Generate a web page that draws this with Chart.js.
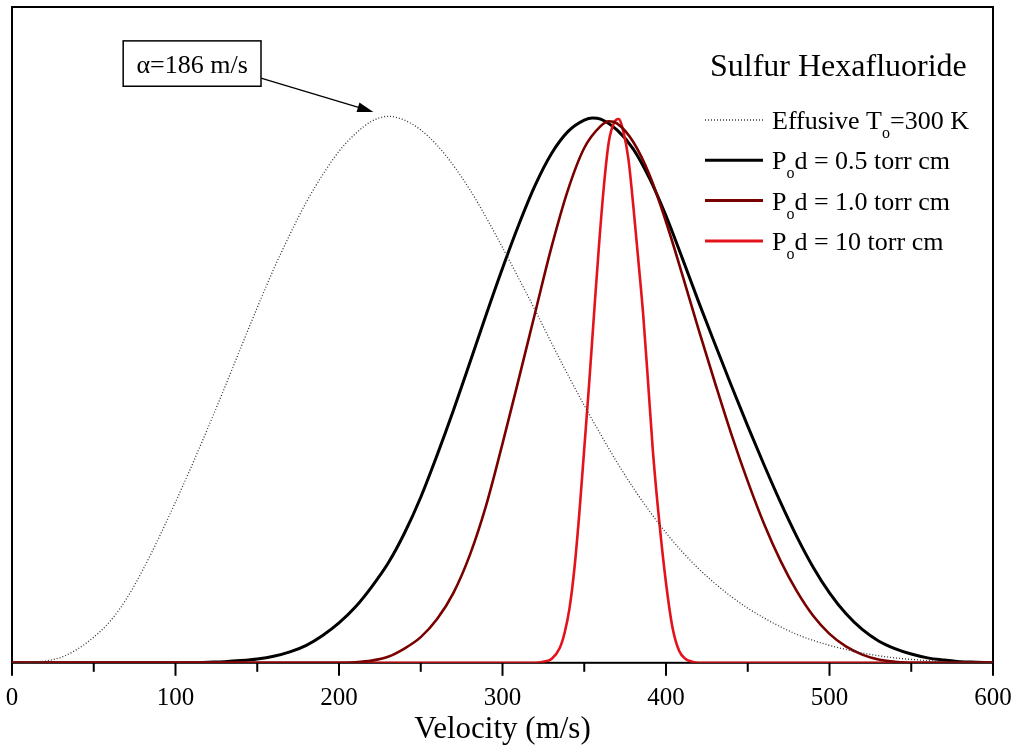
<!DOCTYPE html>
<html>
<head>
<meta charset="utf-8">
<title>Sulfur Hexafluoride velocity distributions</title>
<script src="https://cdn.jsdelivr.net/npm/chart.js@4.4.1/dist/chart.umd.min.js"></script>
<style>
  html, body { margin: 0; padding: 0; background: #fff; }
  #wrap { width: 1020px; height: 753px; }
</style>
</head>
<body>
<div id="wrap"><canvas id="chart"></canvas></div>
<script>
// velocities in m/s, intensities normalised to the effusive peak
const effusiveV = [0, 10, 20, 30, 40, 50, 60, 70, 80, 90, 100, 110, 120, 130, 140, 150, 160, 170, 180, 190,
    200, 210, 220, 230, 240, 250, 260, 270, 280, 290, 300, 310, 320, 330, 340, 350, 360, 370, 380, 390,
    400, 410, 420, 430, 440, 450, 460, 470, 480, 490, 500, 520, 540, 560, 580, 600];
const effusiveI = [0, 0.0005, 0.003, 0.010, 0.025, 0.047, 0.076, 0.117, 0.170, 0.230, 0.294, 0.361, 0.431, 0.503, 0.577, 0.650, 0.720, 0.784, 0.843, 0.893,
    0.936, 0.968, 0.991, 1.000, 0.993, 0.975, 0.947, 0.910, 0.866, 0.815, 0.760, 0.703, 0.645, 0.585, 0.527, 0.471, 0.418, 0.367, 0.320, 0.277,
    0.238, 0.203, 0.172, 0.145, 0.121, 0.100, 0.082, 0.066, 0.052, 0.041, 0.032, 0.018, 0.009, 0.004, 0.001, 0];

const jet05V = [0, 110, 120, 130, 140, 150, 160, 170, 180, 190, 200, 210, 220, 230, 240, 250, 260, 270, 280, 290,
    300, 310, 320, 330, 340, 350, 355, 360, 370, 380, 390, 400, 410, 420, 430, 440, 450, 460, 470, 480,
    490, 500, 510, 520, 530, 540, 550, 560, 570, 580, 590, 600];
const jet05I = [0, 0, 0.001, 0.002, 0.004, 0.007, 0.012, 0.020, 0.032, 0.050, 0.073, 0.102, 0.139, 0.182, 0.237, 0.303, 0.380, 0.462, 0.549, 0.637,
    0.722, 0.802, 0.874, 0.932, 0.972, 0.993, 0.997, 0.995, 0.975, 0.940, 0.886, 0.818, 0.740, 0.660, 0.583, 0.507, 0.433, 0.362, 0.294, 0.231,
    0.175, 0.128, 0.090, 0.061, 0.040, 0.026, 0.016, 0.009, 0.005, 0.002, 0.001, 0];

const jet10V = [0, 200, 210, 220, 230, 240, 250, 260, 270, 280, 290, 300, 310, 320, 330, 340, 350, 360, 365, 370,
    380, 390, 400, 410, 420, 430, 440, 450, 460, 470, 480, 490, 500, 510, 520, 530, 540, 550, 600];
const jet10I = [0, 0, 0.001, 0.004, 0.011, 0.026, 0.047, 0.080, 0.128, 0.197, 0.288, 0.401, 0.520, 0.641, 0.761, 0.865, 0.942, 0.982, 0.991, 0.987,
    0.953, 0.892, 0.807, 0.710, 0.609, 0.512, 0.418, 0.332, 0.254, 0.187, 0.131, 0.086, 0.053, 0.030, 0.015, 0.006, 0.002, 0, 0];

const jet100V = [0, 320, 325, 330, 335, 338, 341, 344, 347, 350, 353, 356, 359, 362, 365, 368, 371, 374, 377, 380,
    383, 386, 389, 392, 396, 400, 404, 408, 412, 416, 420, 600];
const jet100I = [0, 0, 0.002, 0.007, 0.027, 0.055, 0.100, 0.173, 0.274, 0.392, 0.511, 0.639, 0.763, 0.872, 0.953, 0.987, 0.995, 0.971, 0.922, 0.836,
    0.739, 0.639, 0.515, 0.387, 0.255, 0.146, 0.064, 0.022, 0.007, 0.002, 0, 0];

const xTicks = [0, 100, 200, 300, 400, 500, 600];

const FONT = "'Liberation Serif', 'Times New Roman', serif";

function pairs(xs, ys) {
    return xs.map((x, i) => ({ x, y: ys[i] }));
}

// legend entries: label pieces [main, subscript, rest]
const legendItems = [
    { parts: ['Effusive T', 'o', '=300 K'], color: '#333', width: 1.3, dash: [1, 2] },
    { parts: ['P', 'o', 'd = 0.5 torr cm'], color: '#000000', width: 3, dash: [] },
    { parts: ['P', 'o', 'd = 1.0 torr cm'], color: '#7a0000', width: 3, dash: [] },
    { parts: ['P', 'o', 'd = 10 torr cm'], color: '#e3121b', width: 3, dash: [] }
];

// frame + ticks go under the curves, so the zero lines paint over the bottom edge
const framePlugin = {
    id: 'frame',
    beforeDatasetsDraw(chart) {
        const { ctx, chartArea: a } = chart;
        const xs = chart.scales.x;
        ctx.save();
        ctx.strokeStyle = '#000';
        ctx.lineWidth = 2;
        ctx.strokeRect(a.left, a.top, a.right - a.left, a.bottom - a.top);
        // outward ticks, major every 100, minor every 50
        for (let v = 0; v <= 600; v += 50) {
            const px = xs.getPixelForValue(v);
            const len = v % 100 === 0 ? 13 : 9;
            ctx.beginPath();
            ctx.moveTo(px, a.bottom);
            ctx.lineTo(px, a.bottom + len);
            ctx.stroke();
        }
        ctx.restore();
    }
};

const legendPlugin = {
    id: 'legendBox',
    afterDraw(chart) {
        const { ctx } = chart;
        ctx.save();
        ctx.fillStyle = '#000';
        ctx.textBaseline = 'alphabetic';
        ctx.font = '32px ' + FONT;
        ctx.fillText('Sulfur Hexafluoride', 710, 76);

        legendItems.forEach((item, i) => {
            const y = 120 + i * 40.3;
            ctx.beginPath();
            ctx.setLineDash(item.dash);
            ctx.strokeStyle = item.color;
            ctx.lineWidth = item.width;
            ctx.moveTo(705, y);
            ctx.lineTo(763, y);
            ctx.stroke();
            ctx.setLineDash([]);

            let x = 772;
            const base = y + 9;
            ctx.font = '26px ' + FONT;
            ctx.fillText(item.parts[0], x, base);
            x += ctx.measureText(item.parts[0]).width;
            ctx.font = '16px ' + FONT;
            ctx.fillText(item.parts[1], x, base + 9);
            x += ctx.measureText(item.parts[1]).width;
            ctx.font = '26px ' + FONT;
            ctx.fillText(item.parts[2], x, base);
        });
        ctx.restore();
    }
};

const notePlugin = {
    id: 'note',
    afterDraw(chart) {
        const { ctx } = chart;
        const xs = chart.scales.x, ys = chart.scales.y;
        const left = xs.getPixelForValue(68), right = xs.getPixelForValue(152.3);
        const top = ys.getPixelForValue(1.138), bottom = ys.getPixelForValue(1.055);
        ctx.save();
        ctx.strokeStyle = '#000';
        ctx.lineWidth = 1.5;
        ctx.strokeRect(left, top, right - left, bottom - top);
        ctx.fillStyle = '#000';
        ctx.font = '26px ' + FONT;
        ctx.textAlign = 'center';
        ctx.textBaseline = 'alphabetic';
        ctx.fillText('\u03b1=186 m/s', (left + right) / 2, top + 32);

        const x0 = right, y0 = ys.getPixelForValue(1.070);
        const x1 = xs.getPixelForValue(221), y1 = ys.getPixelForValue(1.008);
        const ang = Math.atan2(y1 - y0, x1 - x0);
        ctx.lineWidth = 1.3;
        ctx.beginPath();
        ctx.moveTo(x0, y0);
        ctx.lineTo(x1 - 12 * Math.cos(ang), y1 - 12 * Math.sin(ang));
        ctx.stroke();
        ctx.beginPath();
        ctx.moveTo(x1, y1);
        ctx.lineTo(x1 - 16 * Math.cos(ang) + 5 * Math.sin(ang), y1 - 16 * Math.sin(ang) - 5 * Math.cos(ang));
        ctx.lineTo(x1 - 16 * Math.cos(ang) - 5 * Math.sin(ang), y1 - 16 * Math.sin(ang) + 5 * Math.cos(ang));
        ctx.closePath();
        ctx.fill();
        ctx.restore();
    }
};

new Chart(document.getElementById('chart'), {
    type: 'line',
    data: {
        datasets: [
            {
                label: 'Effusive To=300 K',
                data: pairs(effusiveV, effusiveI),
                borderColor: '#333',
                borderWidth: 1.3,
                borderDash: [1, 2],
                order: 0
            },
            {
                label: 'Pod = 0.5 torr cm',
                data: pairs(jet05V, jet05I),
                borderColor: '#000000',
                borderWidth: 3,
                order: 3
            },
            {
                label: 'Pod = 1.0 torr cm',
                data: pairs(jet10V, jet10I),
                borderColor: '#7a0000',
                borderWidth: 2.6,
                order: 1
            },
            {
                label: 'Pod = 10 torr cm',
                data: pairs(jet100V, jet100I),
                borderColor: '#e3121b',
                borderWidth: 2.6,
                order: 2
            }
        ]
    },
    options: {
        responsive: true,
        maintainAspectRatio: false,
        animation: false,
        layout: { padding: { left: 12, right: 27, top: 7, bottom: 5 } },
        elements: {
            point: { radius: 0 },
            line: { cubicInterpolationMode: 'monotone', fill: false }
        },
        plugins: {
            legend: { display: false },
            tooltip: { enabled: false }
        },
        scales: {
            x: {
                type: 'linear',
                min: 0,
                max: 600,
                grid: { display: false, drawTicks: false },
                border: { display: false },
                afterBuildTicks: scale => {
                    scale.ticks = xTicks.map(v => ({ value: v }));
                },
                afterFit: scale => {
                    // let the end labels hang over the frame like the original
                    scale.paddingLeft = 0;
                    scale.paddingRight = 0;
                },
                ticks: {
                    color: '#000',
                    padding: 21,
                    maxRotation: 0,
                    font: { family: FONT, size: 25 }
                },
                title: {
                    display: true,
                    text: 'Velocity (m/s)',
                    color: '#000',
                    padding: { top: -24, bottom: 0 },
                    font: { family: FONT, size: 31 }
                }
            },
            y: {
                display: false,
                min: 0,
                max: 1.2
            }
        }
    },
    plugins: [framePlugin, legendPlugin, notePlugin]
});
</script>
</body>
</html>
